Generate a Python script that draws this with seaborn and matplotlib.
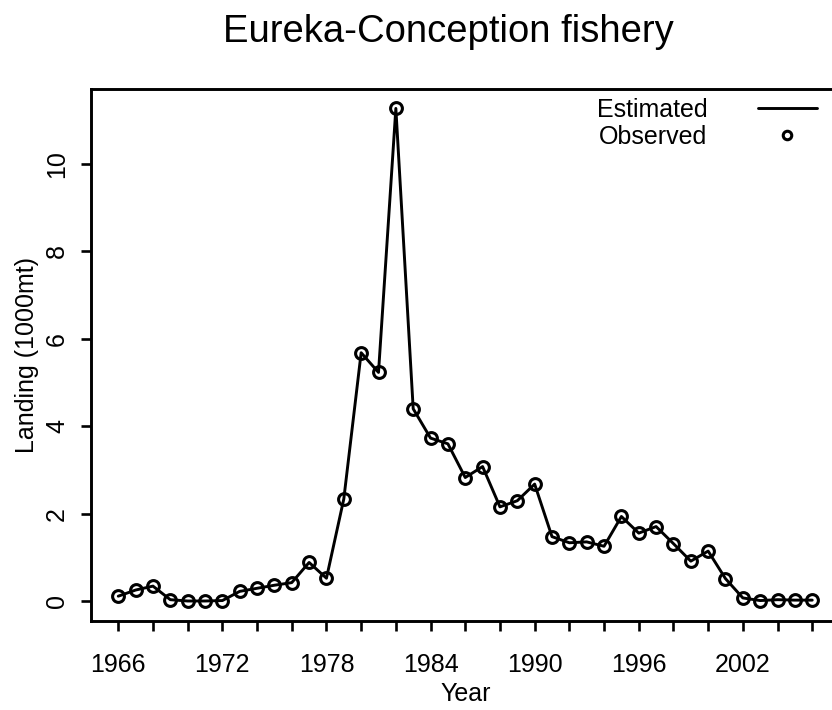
import numpy as np
import pandas as pd
import matplotlib
matplotlib.use('Agg')
import matplotlib.pyplot as plt
import seaborn as sns

# Landings per year (1000 mt)
years = list(range(1966, 2007))
landing = [0.12, 0.26, 0.35, 0.04, 0.01, 0.01, 0.02, 0.23, 0.30, 0.37,
           0.43, 0.89, 0.53, 2.34, 5.68, 5.23, 11.26, 4.40, 3.73, 3.60,
           2.83, 3.08, 2.16, 2.30, 2.68, 1.48, 1.34, 1.36, 1.26, 1.94,
           1.56, 1.71, 1.32, 0.92, 1.15, 0.52, 0.08, 0.02, 0.04, 0.03, 0.03]
xticks = list(range(1966, 2007, 2))
xtick_labels = [str(y) if (y - 1966) % 6 == 0 else '' for y in xticks]
yticks = [0, 2, 4, 6, 8, 10]

df = pd.DataFrame({'Year': years, 'Landing': landing})

sns.set_style('ticks')
plt.rcParams['font.family'] = ['Liberation Sans', 'DejaVu Sans']
plt.rcParams['text.color'] = 'black'
plt.rcParams['axes.labelcolor'] = 'black'
plt.rcParams['xtick.color'] = 'black'
plt.rcParams['ytick.color'] = 'black'

fig = plt.figure(figsize=(8.32, 7.1), dpi=100)
ax = fig.add_axes([90.5 / 832, 89.3 / 710, 749.5 / 832, 532 / 710])

sns.lineplot(data=df, x='Year', y='Landing', ax=ax, color='black',
             linewidth=2.1, label='Estimated')
sns.lineplot(data=df, x='Year', y='Landing', ax=ax, color='black',
             linestyle='', marker='o', markersize=8.5, markerfacecolor='none',
             markeredgecolor='black', markeredgewidth=2.2, label='Observed')

# R style 4% axis padding
xr = max(years) - min(years)
yr = max(landing) - min(landing)
ax.set_xlim(min(years) - 0.04 * xr, max(years) + 0.04 * xr)
ax.set_ylim(min(landing) - 0.04 * yr, max(landing) + 0.04 * yr)

ax.set_xticks(xticks)
ax.set_xticklabels(xtick_labels)
ax.set_yticks(yticks)
ax.set_yticklabels([str(v) for v in yticks], rotation=90, va='center')
ax.tick_params(axis='both', labelsize=18, length=7.5, width=1.9,
               colors='black', direction='out')
ax.tick_params(axis='x', pad=16)
ax.tick_params(axis='y', pad=8)

for s in ax.spines.values():
    s.set_visible(True)
    s.set_linewidth(2.1)
    s.set_color('black')

ax.set_xlabel('Year', fontsize=18, labelpad=3)
ax.set_ylabel('Landing (1000mt)', fontsize=18, labelpad=4)

fig.suptitle('Eureka-Conception fishery', x=448 / 832, y=1 - 41.7 / 710,
             va='baseline', fontsize=27.5, color='black')

ax.legend(loc='upper left', bbox_to_anchor=(597 / 832, 1 - 98 / 710),
          bbox_transform=fig.transFigure, frameon=False, fontsize=18,
          markerfirst=False, handlelength=2.36, handletextpad=2.0,
          labelspacing=0.1, borderpad=0, borderaxespad=0, markerscale=0.72)

fig.savefig('out.png', dpi=100)
